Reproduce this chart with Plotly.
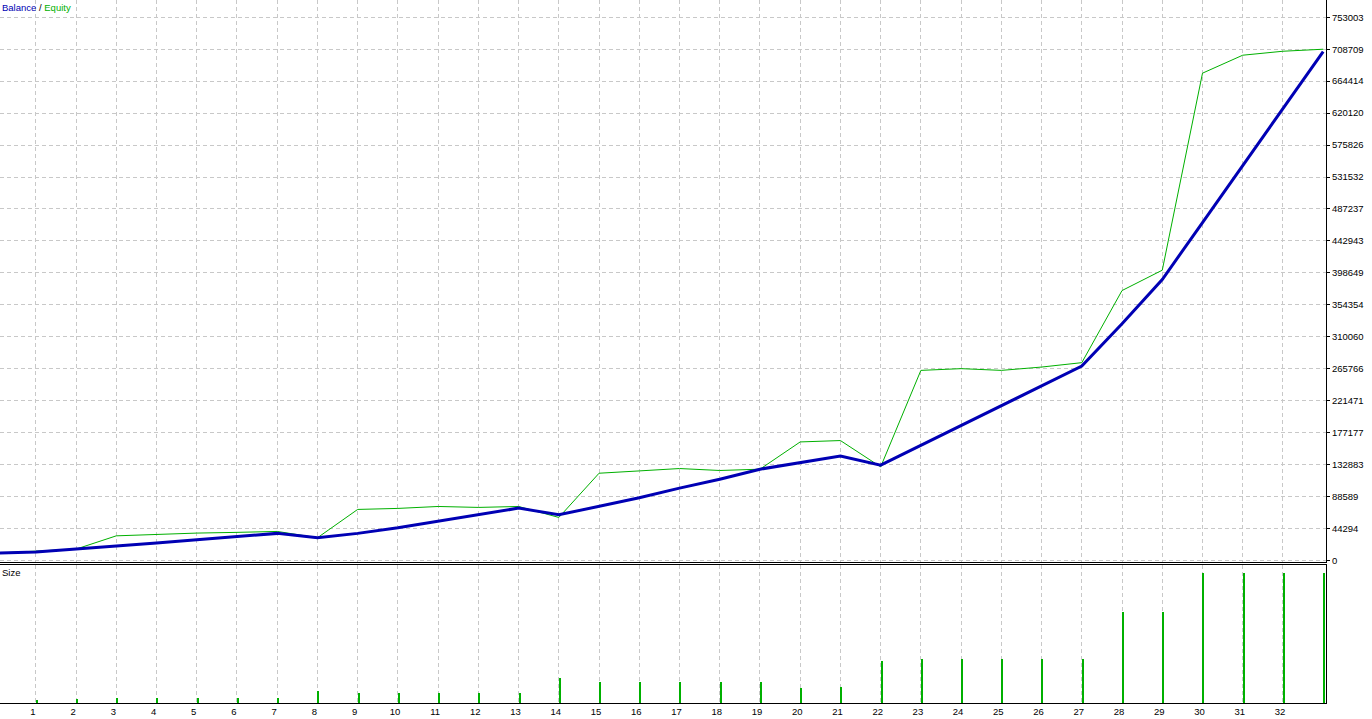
"""
Strategy tester report chart: Balance / Equity curve with a Size panel below
"""

import plotly.graph_objects as go

# Trade number on the x axis
trades = list(range(34))

# Account balance after each trade
balance = [10000, 11500, 15600, 19400, 23900, 28500, 32700, 37400, 31300, 37400,
           45100, 54000, 63100, 72400, 63100, 74700, 86700, 100100, 112500, 126400,
           136100, 144800, 131900, 159400, 186900, 214400, 241900, 269400, 328000, 389400,
           468400, 547400, 626400, 705400]

# Equity at each trade
equity = [10000, 12500, 15600, 34000, 36400, 37800, 38800, 40100, 31300, 70600,
          72000, 74700, 73400, 74700, 59500, 120800, 124000, 127300, 124600, 126400,
          164200, 166100, 129600, 263400, 265800, 263400, 268000, 274100, 374100, 402300,
          675500, 700400, 705900, 708709]

# Position size of each trade (trade 1..33)
size_trades = list(range(1, 34))
sizes = [0.6, 0.8, 1.0, 1.0, 1.0, 1.0, 1.0, 2.4, 2.0, 2.0,
         2.0, 2.0, 2.0, 5.0, 4.2, 4.2, 4.2, 4.2, 4.2, 3.0,
         3.2, 8.4, 8.8, 8.8, 8.8, 8.8, 8.8, 18.2, 18.2, 26.0,
         26.0, 26.0, 26.0]

# Right axis labels
y_ticks = [0, 44294, 88589, 132883, 177177, 221471, 265766, 310060, 354354,
           398649, 442943, 487237, 531532, 575826, 620120, 664414, 708709, 753003]
y_labels = [str(v) for v in y_ticks]

x_ticks = list(range(33))

BLUE = "#0000b4"
GREEN = "#00b000"
GRID = "#c8c8c8"
FONT = "Liberation Sans"

fig = go.Figure()

fig.add_trace(go.Scatter(x=trades, y=equity, mode="lines", name="Equity",
                         line=dict(color=GREEN, width=1), xaxis="x", yaxis="y"))
fig.add_trace(go.Scatter(x=trades, y=balance, mode="lines", name="Balance",
                         line=dict(color=BLUE, width=3), xaxis="x", yaxis="y"))
fig.add_trace(go.Bar(x=size_trades, y=sizes, name="Size", width=0.035, offset=0.01,
                     marker=dict(color=GREEN, line=dict(width=0)),
                     xaxis="x2", yaxis="y2"))

xcommon = dict(range=[0.109, 33.07], tickvals=x_ticks, showgrid=True,
               gridcolor=GRID, griddash="4px,3px", gridwidth=1, zeroline=False,
               showline=True, linecolor="black", linewidth=1)

fig.update_layout(
    width=1372, height=719,
    margin=dict(l=0, r=46, t=0, b=16),
    paper_bgcolor="white", plot_bgcolor="white",
    showlegend=False, bargap=0,
    font=dict(family=FONT, size=9.5, color="black"),
    xaxis=dict(anchor="y", showticklabels=False, **xcommon),
    xaxis2=dict(anchor="y2", matches="x", showticklabels=True, mirror=True,
                ticklabelshift=-3, tickfont=dict(family=FONT, size=9.5, color="black"),
                **xcommon),
    yaxis=dict(domain=[0.2005, 1.0], range=[-2353, 776950], side="right",
               tickvals=y_ticks, ticktext=y_labels, ticks="outside", ticklen=3,
               tickcolor="black", showgrid=True, gridcolor=GRID, griddash="4px,3px",
               zeroline=False, showline=True, linecolor="black", linewidth=1,
               tickfont=dict(family=FONT, size=9.5, color="black")),
    yaxis2=dict(domain=[0.0, 0.1963], range=[0, 27.6], side="right",
                showticklabels=False, showgrid=False, zeroline=False,
                showline=True, linecolor="black", linewidth=1),
    annotations=[
        dict(text=f"<span style='color:{BLUE}'>Balance</span> / "
                  f"<span style='color:{GREEN}'>Equity</span>",
             xref="paper", yref="paper", x=0, y=1, xanchor="left", yanchor="top",
             showarrow=False, font=dict(family=FONT, size=9.5, color="black")),
        dict(text="Size", xref="paper", yref="y2 domain", x=0, y=1,
             xanchor="left", yanchor="top", showarrow=False,
             font=dict(family=FONT, size=9.5, color="black")),
    ],
)

# page body has an 8px default margin; drop it so the chart fills the window
fig.write_html("out.html", config={"displayModeBar": False},
               post_script="document.body.style.margin='0px';")
